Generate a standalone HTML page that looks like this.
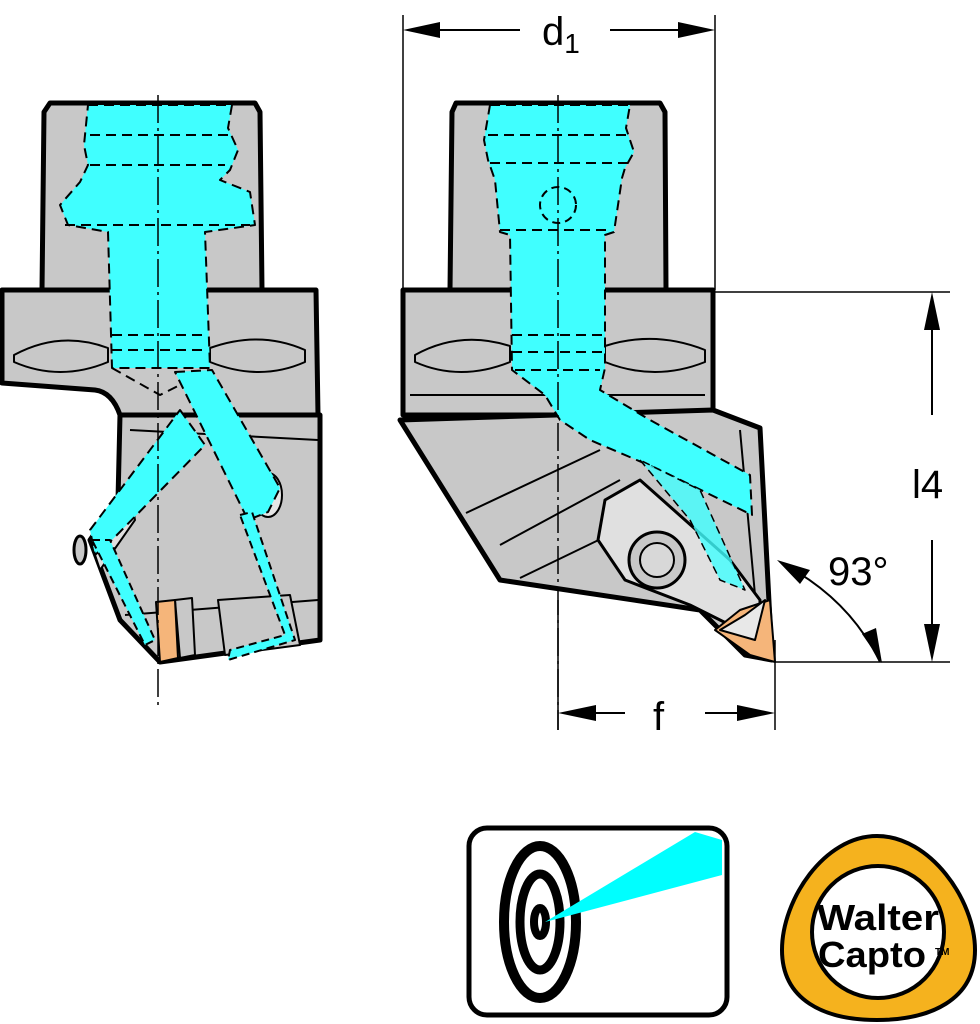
<!DOCTYPE html>
<html><head><meta charset="utf-8"><style>html,body{margin:0;padding:0;background:#fff}svg{display:block}</style></head>
<body>
<svg width="980" height="1024" viewBox="0 0 980 1024" xmlns="http://www.w3.org/2000/svg" font-family="Liberation Sans, DejaVu Sans, sans-serif">
<g stroke="#000" stroke-linejoin="round">
<!-- LEFT VIEW -->
<path d="M50 103 L255 103 L260 112 L262 290 L42 290 L44 112 Z" fill="#c8c8c8" stroke-width="5"/>
<path d="M2 290 L316 290 L318 415 L120 415 Q112 392 95 390 L2 383 Z" fill="#c8c8c8" stroke-width="5"/>
<path d="M120 415 L320 415 L320 640 L160 662 L120 620 L90 540 L118 500 Z" fill="#c8c8c8" stroke-width="5"/>
<path d="M90 540 L130 490 L135 520 L100 570 Z" fill="#e0e0e0" stroke-width="2"/>
<ellipse cx="80" cy="550" rx="6" ry="14" fill="#c8c8c8" stroke-width="3"/>
<path d="M14 355 Q60 330 108 348 L108 362 Q60 382 14 362 Z" fill="#c8c8c8" stroke-width="2"/>
<path d="M210 348 Q260 330 305 350 L305 362 Q260 382 210 362 Z" fill="#c8c8c8" stroke-width="2"/>
<path d="M130 430 L318 440 M125 615 L318 600" fill="none" stroke-width="2"/>
<path d="M218 600 L290 595 L300 645 L225 655 Z" fill="#c8c8c8" stroke-width="2"/>
<path d="M175 600 L192 598 L195 655 L180 658 Z" fill="#c8c8c8" stroke-width="2"/>
<path d="M156 602 L175 600 L178 658 L160 662 Z" fill="#f5b57a" stroke-width="2"/>
<ellipse cx="268" cy="495" rx="14" ry="22" fill="#e6e6e6" stroke-width="2"/>
<!-- left cyan -->
<path d="M88 105 L232 105 L228 128 L238 150 L230 170 L220 180 L250 192 L255 225 L205 232 L210 368 L112 368 L108 232 L68 225 L60 205 L80 182 L88 165 L84 145 Z" fill="#40ffff" stroke-width="2" stroke-dasharray="10 6"/>
<path d="M175 372 L212 370 L280 488 L268 512 L248 520 Z" fill="#40ffff" stroke-width="2" stroke-dasharray="10 6"/>
<path d="M180 410 L205 445 L112 540 L95 555 L90 530 Z" fill="#40ffff" stroke-width="2" stroke-dasharray="10 6"/>
<path d="M92 540 L110 540 L155 640 L145 645 Z" fill="#40ffff" stroke-width="2" stroke-dasharray="8 5"/>
<path d="M240 515 L252 512 L295 640 L228 660 L230 650 L285 635 Z" fill="#40ffff" stroke-width="2" stroke-dasharray="8 5"/>
<path d="M112 368 L160 395 L180 385" fill="none" stroke-width="2" stroke-dasharray="10 6"/>
<path d="M90 135 L230 135 M90 165 L225 165 M65 225 L250 225 M112 335 L205 335 M112 350 L205 350" fill="none" stroke-width="2" stroke-dasharray="10 6"/>
<path d="M158 95 L158 705" fill="none" stroke-width="1.5" stroke-dasharray="28 5 3 5"/>

<!-- RIGHT VIEW -->
<path d="M456 103 L660 103 L665 112 L666 290 L450 290 L452 112 Z" fill="#c8c8c8" stroke-width="5"/>
<path d="M403 290 L713 290 L713 415 L403 415 Z" fill="#c8c8c8" stroke-width="5"/>
<path d="M400 420 L713 410 L760 428 L772 660 L745 655 L700 610 L500 580 Z" fill="#c8c8c8" stroke-width="5"/>
<path d="M415 355 Q460 330 510 346 L510 362 Q460 382 415 362 Z" fill="#c8c8c8" stroke-width="2"/>
<path d="M605 346 Q655 330 705 350 L705 362 Q655 382 605 362 Z" fill="#c8c8c8" stroke-width="2"/>
<path d="M410 395 L705 395" fill="none" stroke-width="2"/>
<path d="M466 513 L600 450 M500 545 L620 480 M520 578 L640 520 M740 430 L760 650" fill="none" stroke-width="2"/>
<path d="M605 500 L640 480 L730 560 L760 600 L760 640 L720 620 L690 605 L625 580 L598 540 Z" fill="#e0e0e0" stroke-width="3"/>
<circle cx="657" cy="560" r="28" fill="#c8c8c8" stroke-width="3"/>
<circle cx="657" cy="560" r="17" fill="#d8d8d8" stroke-width="2"/>
<path d="M715 630 L740 610 L770 600 L775 662 L750 655 Z" fill="#f5b57a" stroke-width="2"/>
<path d="M720 630 L745 615 L765 600 L755 640 Z" fill="#e8e8e8" stroke-width="2"/>
<!-- right cyan -->
<path d="M490 105 L630 105 L626 128 L634 152 L625 168 L622 178 L614 232 L605 235 L605 368 L600 390 L650 420 L750 475 L752 515 L660 470 L590 440 L560 420 L545 395 L512 370 L510 235 L500 232 L495 180 L488 160 L484 140 Z" fill="#40ffff" stroke-width="2" stroke-dasharray="10 6"/>
<path d="M640 460 L690 520 L720 580 L745 590 L700 490 Z" fill="#40ffff" fill-opacity="0.8" stroke-width="1.5" stroke-dasharray="8 5"/>
<path d="M488 135 L630 135 M490 163 L630 163 M500 230 L612 230 M512 335 L605 335 M512 352 L605 352 M515 370 L600 370" fill="none" stroke-width="2" stroke-dasharray="10 6"/>
<circle cx="558" cy="205" r="18" fill="none" stroke-width="2" stroke-dasharray="8 5"/>
<path d="M558 95 L558 730" fill="none" stroke-width="1.5" stroke-dasharray="28 5 3 5"/>

<!-- DIMENSIONS -->
<path d="M403 15 L403 290 M715 15 L715 290 M713 292 L950 292 M775 662 L950 662 M775 640 L775 730 M558 600 L558 730" fill="none" stroke-width="1.5"/>
<path d="M420 30 L520 30 M610 30 L698 30 M932 310 L932 415 M932 540 L932 645 M575 713 L625 713 M705 713 L758 713" fill="none" stroke-width="2"/>
<path d="M785 565 Q850 600 880 662" fill="none" stroke-width="2"/>
</g>
<g fill="#000">
<polygon points="403,30 440,22 440,38"/>
<polygon points="715,30 678,22 678,38"/>
<polygon points="932,292 924,330 940,330"/>
<polygon points="932,662 924,624 940,624"/>
<polygon points="558,713 596,705 596,721"/>
<polygon points="775,713 737,705 737,721"/>
<polygon points="777,560 810,570 800,584"/>
<polygon points="882,663 862,634 876,628"/>
</g>
<text x="542" y="45" font-size="40">d<tspan font-size="28" dy="8">1</tspan></text>
<text x="912" y="498" font-size="40">l4</text>
<text x="653" y="730" font-size="40">f</text>
<text x="828" y="585" font-size="40">93°</text>

<!-- ICONS -->
<rect x="469" y="828" width="258" height="187" rx="18" fill="#fff" stroke="#000" stroke-width="5"/>
<ellipse cx="540" cy="922" rx="36" ry="76" fill="none" stroke="#000" stroke-width="10"/>
<ellipse cx="540" cy="922" rx="20" ry="48" fill="none" stroke="#000" stroke-width="9"/>
<ellipse cx="540" cy="922" rx="6" ry="14" fill="none" stroke="#000" stroke-width="8"/>
<path d="M545 922 L695 832 L722 840 L722 875 Z" fill="#00ffff"/>
<path d="M877 836 C930 836 975 900 975 950 C975 1000 930 1020 877 1020 C824 1020 782 1000 782 950 C782 900 824 836 877 836 Z" fill="#f5b21e" stroke="#000" stroke-width="4"/>
<circle cx="878" cy="932" r="66" fill="#fff" stroke="#000" stroke-width="4"/>
<text x="878" y="930" font-size="36" font-weight="bold" text-anchor="middle" textLength="122" lengthAdjust="spacingAndGlyphs">Walter</text>
<text x="872" y="967" font-size="36" font-weight="bold" text-anchor="middle" textLength="108" lengthAdjust="spacingAndGlyphs">Capto</text>
<text x="935" y="955" font-size="10" font-weight="bold">TM</text>
</svg>
</body></html>
